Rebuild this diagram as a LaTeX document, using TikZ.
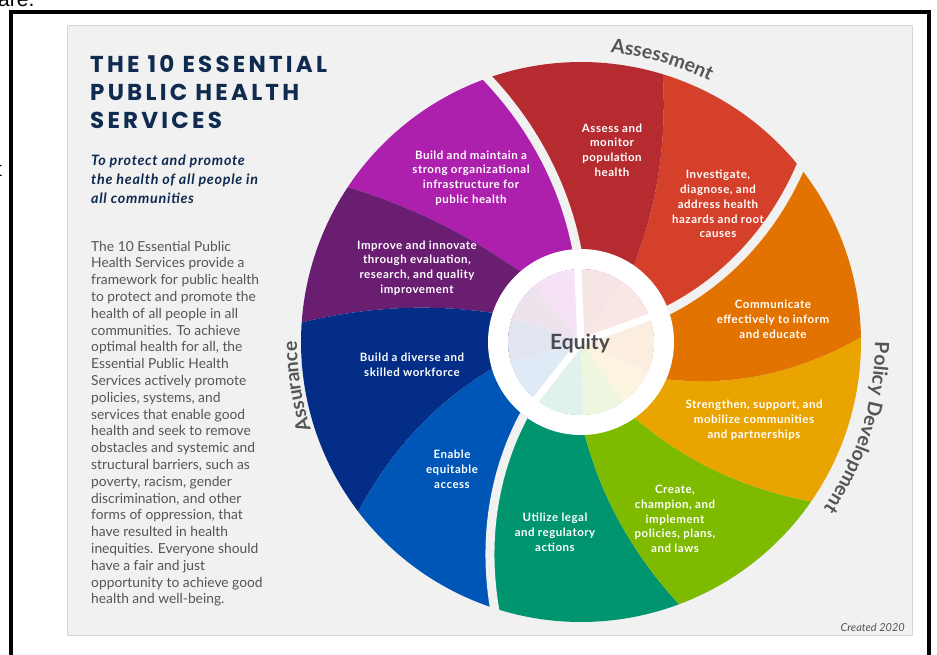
\documentclass[tikz,border=0pt]{standalone}
\usepackage{fontspec}
\setmainfont{Lato}
\newfontfamily\titlefont[LetterSpace=14]{Poppins}
\newfontfamily\subfont[LetterSpace=5]{Lato}
\newfontfamily\lblfamily[LetterSpace=4.5]{Lato}
\newfontfamily\grpfamily[LetterSpace=5]{Lato}
\newfontfamily\fragfont{Liberation Sans}
\usetikzlibrary{decorations.text}
\definecolor{panel}{HTML}{F1F1F1}
\definecolor{panelline}{HTML}{D6D6D6}
\definecolor{navy}{HTML}{0F2B50}
\definecolor{bodygray}{HTML}{555555}
\definecolor{grp}{HTML}{555555}
\definecolor{eqgray}{HTML}{4B4B4D}
\definecolor{cAssess}{HTML}{B52B2F}
\definecolor{cInvest}{HTML}{D5402B}
\definecolor{cComm}{HTML}{E37300}
\definecolor{cStren}{HTML}{E9A400}
\definecolor{cCreate}{HTML}{7EBB00}
\definecolor{cUtil}{HTML}{00956F}
\definecolor{cEnable}{HTML}{0056B6}
\definecolor{cDiverse}{HTML}{032D86}
\definecolor{cImprove}{HTML}{6A1E72}
\definecolor{cInfra}{HTML}{AD1FAD}
\def\wcx{581}
\def\wcy{342}
% divider angle at radius \rad: a + d*((r-92)/188)^p
% segment: color, a1, d1, p1, a2, d2, p2
\newcommand\wseg[7]{%
  \fill[#1] (\wcx,\wcy)
    -- plot[domain=92.2:280,samples=36,variable=\rad] ({\wcx+\rad*cos(#2+#3*((\rad-92)/188)^#4)},{\wcy-\rad*sin(#2+#3*((\rad-92)/188)^#4)})
    -- plot[domain=#2+#3:#5+#6,samples=40,variable=\tht] ({\wcx+280*cos(\tht)},{\wcy-280*sin(\tht)})
    -- plot[domain=280:92.2,samples=36,variable=\rad] ({\wcx+\rad*cos(#5+#6*((\rad-92)/188)^#7)},{\wcy-\rad*sin(#5+#6*((\rad-92)/188)^#7)})
    -- cycle;}
% gap: a, d, p
\newcommand\wgap[3]{%
  \draw[panel,line width=9] plot[domain=92.2:292,samples=40,variable=\rad] ({\wcx+\rad*cos(#1+#2*((\rad-92)/188)^#3)},{\wcy-\rad*sin(#1+#2*((\rad-92)/188)^#3)});
  \draw[white,line width=7] (\wcx,\wcy) -- ({\wcx+80*cos(#1)},{\wcy-80*sin(#1)});}
\newcommand\grpfont{\grpfamily\fontsize{19.5}{20}\selectfont\bfseries}
\begin{document}
\begin{tikzpicture}[x=1pt,y=-1pt,
  titletxt/.style={inner sep=0,text=navy,font=\titlefont\bfseries\fontsize{23}{28}\selectfont},
  subtxt/.style={inner sep=0,text=navy,font=\subfont\bfseries\itshape\fontsize{14.3}{19}\selectfont},
  bodytxt/.style={inner sep=0,text=bodygray,font=\fontsize{13.8}{16.8}\selectfont},
  lbl/.style={inner sep=0,text=white,align=center,font=\lblfamily\bfseries\fontsize{11.5}{14.8}\selectfont},
  frag/.style={inner sep=0,text=black,font=\fragfont\fontsize{21}{21}\selectfont}]
\useasboundingbox (0,0) rectangle (937,654);
\fill[white] (0,0) rectangle (937,654);
% fragments of the surrounding page
\node[frag,anchor=base west] (fragA) at (-2,6) {are.};
\node[frag,anchor=base west] (fragT) at (-4,176) {t};
% black frame
\draw[black,line width=4] (10.5,660) -- (10.5,11.5) -- (929,11.5) -- (929,660);
% panel
\draw[fill=panel,draw=panelline,line width=1] (67.5,25.5) rectangle (912,635.5);
% title
\foreach \lineT [count=\i from 0] in {THE 10 ESSENTIAL,PUBLIC HEALTH,SERVICES}
  \node[titletxt,anchor=base west,name=title\i] at (90,72+28*\i) {\lineT};
\foreach \lineT [count=\i from 0] in {To protect and promote,the health of all people in,all communities}
  \node[subtxt,anchor=base west,name=sub\i] at (91,165.5+19*\i) {\lineT};
\foreach \lineT [count=\i from 0] in {The 10 Essential Public,Health Services provide a,framework for public health,to protect and promote the,health of all people in all,communities. To achieve,{optimal health for all, the},Essential Public Health,Services actively promote,{policies, systems, and},services that enable good,health and seek to remove,obstacles and systemic and,{structural barriers, such as},{poverty, racism, gender},{discrimination, and other},{forms of oppression, that},have resulted in health,inequities. Everyone should,have a fair and just,opportunity to achieve good,health and well-being.}
  \node[bodytxt,anchor=base west,name=body\i] at (91,251+16.8*\i) {\lineT};
% wheel segments
\wseg{cInvest}{20}{18.5}{1.1}{55}{18}{0.8}
\wseg{cAssess}{55}{18}{0.8}{92.5}{17}{1}
\wseg{cInfra}{92.5}{17}{1}{130}{16.4}{0.7}
\wseg{cImprove}{130}{16.4}{0.7}{161.5}{14.5}{0.85}
\wseg{cDiverse}{161.5}{14.5}{0.85}{196.3}{21}{0.85}
\wseg{cEnable}{196.3}{21}{0.85}{232}{20}{1}
\wseg{cUtil}{232}{20}{1}{272}{18.5}{0.85}
\wseg{cCreate}{272}{18.5}{0.85}{305}{20.3}{0.85}
\wseg{cStren}{305}{20.3}{0.85}{336}{25}{0.85}
\wseg{cComm}{336}{25}{0.85}{380}{18.5}{1.1}
% pale centre and white ring
\fill[white,opacity=0.88] (\wcx,\wcy) circle (73);
\fill[white,even odd rule] (\wcx,\wcy) circle (93) (\wcx,\wcy) circle (73);
% gaps between the three groups
\wgap{20}{18.5}{1.1}
\wgap{92.5}{17}{1}
\wgap{232}{20}{1}
\node[inner sep=0,text=eqgray,font=\bfseries\fontsize{21}{21}\selectfont] (equity) at (580,343) {Equity};
% service labels
\node[lbl] (l1) at (612,150) {Assess and\\monitor\\population\\health};
\node[lbl] (l2) at (718,204) {Investigate,\\diagnose, and\\address health\\hazards and root\\causes};
\node[lbl] (l3) at (773,319) {Communicate\\effectively to inform\\and educate};
\node[lbl] (l4) at (754,420) {Strengthen, support, and\\mobilize communities\\and partnerships};
\node[lbl] (l5) at (675,519) {Create,\\champion, and\\implement\\policies, plans,\\and laws};
\node[lbl] (l6) at (555,532) {Utilize legal\\and regulatory\\actions};
\node[lbl] (l7) at (452,469) {Enable\\equitable\\access};
\node[lbl] (l8) at (412,365) {Build a diverse and\\skilled workforce};
\node[lbl] (l9) at (417,268) {Improve and innovate\\through evaluation,\\research, and quality\\improvement};
\node[lbl] (l10) at (471,178) {Build and maintain a\\strong organizational\\infrastructure for\\public health};
% group labels along arcs
\path[decorate,decoration={text along path,text={|\grpfont|Assessment},text align=center,text color=grp}]
  plot[domain=100:48,samples=80,variable=\tht] ({\wcx+291*cos(\tht)},{\wcy-291*sin(\tht)});
\path[decorate,decoration={text along path,text={|\grpfont|Policy Development},text align=center,text color=grp}]
  plot[domain=14:-48.4,samples=100,variable=\tht] ({\wcx+294*cos(\tht)},{\wcy-294*sin(\tht)});
\path[decorate,decoration={text along path,text={|\grpfont|Assurance},text align=center,text color=grp}]
  plot[domain=215:162.8,samples=80,variable=\tht] ({\wcx+284*cos(\tht)},{\wcy-284*sin(\tht)});
\node[inner sep=0,anchor=base east,text=bodygray,font=\itshape\fontsize{11}{13}\selectfont] (created) at (905,631) {Created 2020};
\end{tikzpicture}
\end{document}
